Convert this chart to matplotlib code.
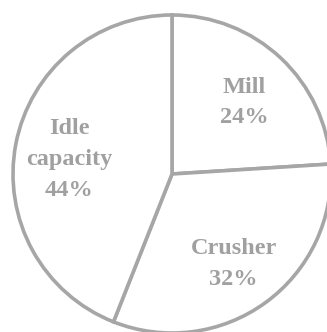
import matplotlib.pyplot as plt
import matplotlib.transforms as mtransforms

labels = ['Mill', 'Crusher', 'Idle\ncapacity']
shares = [24, 32, 44]

grey = '#a6a6a6'

fig = plt.figure(figsize=(3.27, 3.32), dpi=100)
ax = fig.add_axes([0, 0, 1, 1])

texts = [f'{l}\n{s}%' for l, s in zip(labels, shares)]
wedges, label_texts = ax.pie(
    shares, labels=texts, startangle=90, counterclock=False,
    colors=['white'] * 3, labeldistance=0.66,
    wedgeprops=dict(edgecolor=grey, linewidth=2.6),
    textprops=dict(ha='center', va='center', color='#a0a0a0',
                   fontsize=17.5, fontweight='bold',
                   family='Liberation Serif', linespacing=1.62))

# labels sit a few pixels lower in the original
shift = mtransforms.ScaledTranslation(0, -5 / 100, fig.dpi_scale_trans)
for t in label_texts:
    t.set_transform(t.get_transform() + shift)

# put the centre where it sits in the original (pie is cut at the right and bottom)
r = 159
ax.set_xlim(-172 / r, (327 - 172) / r)
ax.set_ylim(-158 / r, (332 - 158) / r)
ax.set_aspect('auto')
ax.axis('off')

fig.savefig('out.png', dpi=100)
